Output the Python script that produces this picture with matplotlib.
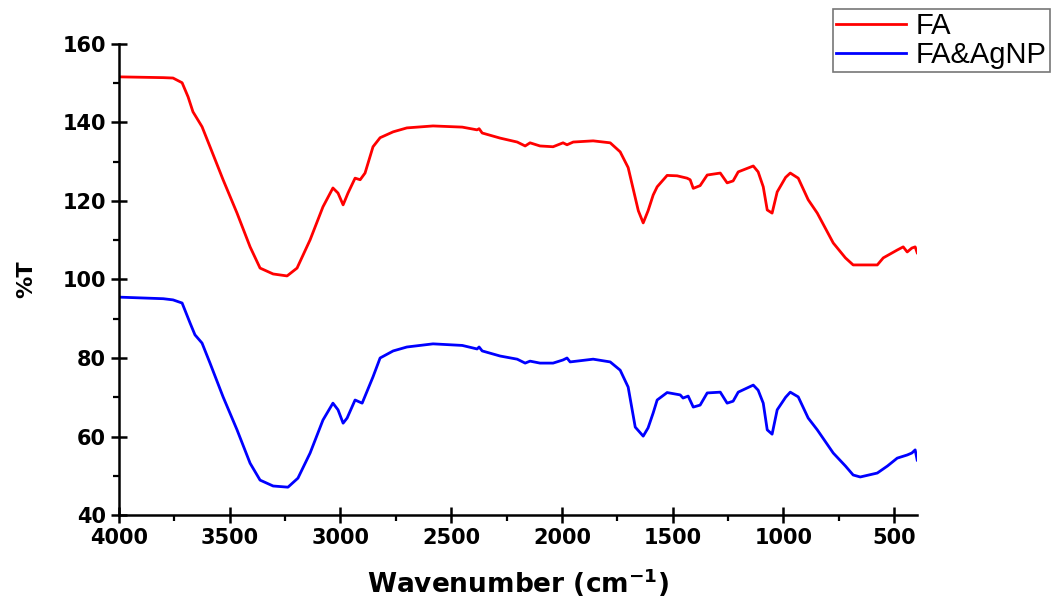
import matplotlib.pyplot as plt
from matplotlib.ticker import MultipleLocator

plt.rcParams['font.family'] = ['DejaVu Sans']
plt.rcParams['mathtext.fontset'] = 'dejavusans'

# FA spectrum (wavenumber, %T)
fa_wn = [4000, 3900, 3800, 3756, 3715, 3688, 3666, 3625, 3589, 3530, 3467, 3408, 3363,
         3304, 3241, 3196, 3137, 3079, 3034, 3011, 2988, 2966, 2934, 2911, 2889, 2853,
         2821, 2762, 2700, 2582, 2450, 2383, 2374, 2360, 2279, 2202, 2166, 2144, 2099,
         2040, 1995, 1977, 1949, 1859, 1782, 1737, 1701, 1678, 1655, 1633, 1611, 1588,
         1570, 1525, 1480, 1435, 1421, 1407, 1376, 1344, 1285, 1254, 1227, 1204, 1136,
         1114, 1091, 1073, 1051, 1028, 990, 969, 933, 888, 847, 775, 720, 685, 576, 549,
         486, 459, 441, 420, 405, 396]
fa_t = [151.6, 151.5, 151.4, 151.3, 150.1, 146.5, 142.7, 138.9, 133.8, 125.4, 116.9, 108.3, 102.9,
        101.4, 100.9, 102.9, 110.1, 118.5, 123.3, 122.0, 119.0, 122.0, 125.8, 125.4, 127.1, 133.8,
        136.1, 137.6, 138.6, 139.1, 138.8, 138.1, 138.4, 137.3, 136.0, 135.0, 134.0, 134.8, 134.0,
        133.8, 134.8, 134.3, 135.0, 135.3, 134.8, 132.5, 128.5, 123.0, 117.5, 114.4, 117.5, 121.5,
        123.6, 126.5, 126.4, 125.8, 125.4, 123.2, 123.9, 126.6, 127.1, 124.6, 125.1, 127.4, 128.9,
        127.4, 123.6, 117.7, 116.9, 122.3, 126.0, 127.1, 125.8, 120.3, 116.9, 109.3, 105.5, 103.7, 103.7, 105.5,
        107.5, 108.3, 107.0, 108.0, 108.3, 106.8]

# FA&AgNP spectrum (wavenumber, %T)
ag_wn = [4000, 3900, 3800, 3756, 3715, 3679, 3657, 3625, 3589, 3530, 3467, 3408, 3363,
         3304, 3237, 3192, 3137, 3079, 3034, 3011, 2988, 2970, 2934, 2902, 2853, 2821,
         2762, 2700, 2582, 2450, 2383, 2374, 2360, 2279, 2202, 2166, 2144, 2099, 2040,
         1995, 1977, 1963, 1859, 1782, 1737, 1701, 1669, 1633, 1611, 1588, 1570, 1525,
         1466, 1453, 1430, 1407, 1376, 1344, 1285, 1254, 1227, 1204, 1136, 1114, 1091,
         1073, 1051, 1028, 990, 969, 933, 888, 847, 775, 720, 685, 653, 576, 530, 486,
         441, 420, 405, 396]
ag_t = [95.5, 95.3, 95.1, 94.8, 94.0, 88.9, 85.9, 83.8, 78.7, 70.1, 61.7, 53.2, 48.9,
        47.4, 47.1, 49.4, 55.8, 64.2, 68.5, 66.8, 63.4, 64.7, 69.3, 68.5, 75.2, 80.0,
        81.8, 82.8, 83.6, 83.2, 82.3, 82.8, 81.8, 80.5, 79.7, 78.7, 79.2, 78.7, 78.7,
        79.5, 80.0, 79.0, 79.7, 79.0, 76.9, 72.6, 62.4, 60.1, 62.2, 66.0, 69.3, 71.2,
        70.6, 69.8, 70.3, 67.5, 68.0, 71.1, 71.3, 68.5, 69.0, 71.3, 73.1, 71.8, 68.5,
        61.7, 60.6, 66.8, 70.0, 71.3, 70.1, 64.7, 61.7, 55.8, 52.5, 50.2, 49.7, 50.7, 52.5, 54.5,
        55.3, 55.8, 56.6, 54.0]

fig = plt.figure(figsize=(10.53, 6.01), dpi=100)
ax = fig.add_axes([0.113, 0.143, 0.758, 0.784])

ax.plot(fa_wn, fa_t, color='#ff0000', lw=2.0, label='FA')
ax.plot(ag_wn, ag_t, color='#0000ff', lw=2.0, label='FA&AgNP')

ax.set_xlim(4000, 396)
ax.set_ylim(40, 160)
ax.xaxis.set_major_locator(MultipleLocator(500))
ax.xaxis.set_minor_locator(MultipleLocator(250))
ax.yaxis.set_major_locator(MultipleLocator(20))
ax.yaxis.set_minor_locator(MultipleLocator(10))

for s in ['top', 'right']:
    ax.spines[s].set_visible(False)
for s in ['left', 'bottom']:
    ax.spines[s].set_linewidth(1.8)

ax.tick_params(which='major', direction='inout', length=11, width=1.8, pad=4, labelsize=15)
ax.tick_params(which='minor', direction='out', length=4, width=1.6)
for lab in ax.get_xticklabels() + ax.get_yticklabels():
    lab.set_fontweight('bold')

ax.set_xlabel('Wavenumber (cm$^{\\mathbf{-1}}$)', fontsize=19, fontweight='bold', labelpad=13)
ax.set_ylabel('%T', fontsize=16, fontweight='bold', labelpad=19)

leg = fig.legend(loc='upper left', bbox_to_anchor=(833 / 1053, 1 - 9 / 601),
                 prop={'family': 'Liberation Sans', 'size': 21},
                 frameon=True, fancybox=False, edgecolor='#555555', handlelength=2.4,
                 borderpad=0.1, labelspacing=0.05, handletextpad=0.35, borderaxespad=0)
leg.get_frame().set_linewidth(1.2)

fig.savefig('out.png', dpi=100)
